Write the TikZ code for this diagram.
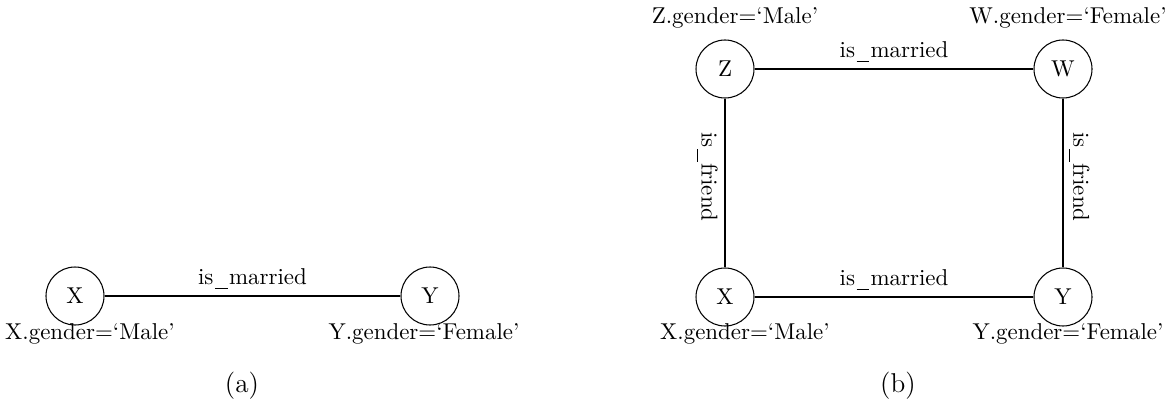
\documentclass[tikz,border=0pt]{standalone}
% underscore drawn as a low rule, as in the classic text underscore
\newcommand\usc{\kern0.7pt\rule[-2pt]{6pt}{0.4pt}\kern0.7pt}
\begin{document}
\begin{tikzpicture}[x=0.4775pt,y=-0.4775pt,
  font=\fontsize{10.95pt}{13.6pt}\selectfont,
  vertex/.style={draw,circle,line width=0.5pt,minimum size=27.7pt,inner sep=0pt},
  rel/.style={line width=0.9pt},
  hlabel/.style={anchor=base,yshift=5.6pt,inner sep=0pt},
  attr/.style={inner sep=0pt,anchor=base},
  caption/.style={font=\fontsize{13pt}{16pt}\selectfont,inner sep=0pt}]
\useasboundingbox (0,0) rectangle (1175,415);

% (a) a single married pair
\node[vertex] (ax) at (75,296) {X};
\node[vertex] (ay) at (430,296) {Y};
\draw[rel] (ax) -- node[hlabel] {is\usc married} (ay);
\node[attr] (axl) at (90,339) {X.gender=`Male'};
\node[attr] (ayl) at (424,339) {Y.gender=`Female'};
\node[caption] (capa) at (242,386) {(a)};

% (b) two married pairs joined by friendship
\node[vertex] (bz) at (725,69) {Z};
\node[vertex] (bw) at (1063,69) {W};
\node[vertex] (bx) at (725,297) {X};
\node[vertex] (by) at (1063,297) {Y};
\draw[rel] (bz) -- node[hlabel] {is\usc married} (bw);
\draw[rel] (bx) -- node[hlabel] {is\usc married} (by);
\draw[rel] (bz) -- node[pos=0.465,rotate=-90,anchor=north,inner sep=3pt] {is\usc friend} (bx);
\draw[rel] (bw) -- node[pos=0.465,rotate=-90,anchor=south,inner sep=2.5pt] {is\usc friend} (by);
\node[attr] (bzl) at (735,23) {Z.gender=`Male'};
\node[attr] (bwl) at (1068,23) {W.gender=`Female'};
\node[attr] (bxl) at (745,339) {X.gender=`Male'};
\node[attr] (byl) at (1068,339) {Y.gender=`Female'};
\node[caption] (capb) at (898,386) {(b)};
\end{tikzpicture}
\end{document}
